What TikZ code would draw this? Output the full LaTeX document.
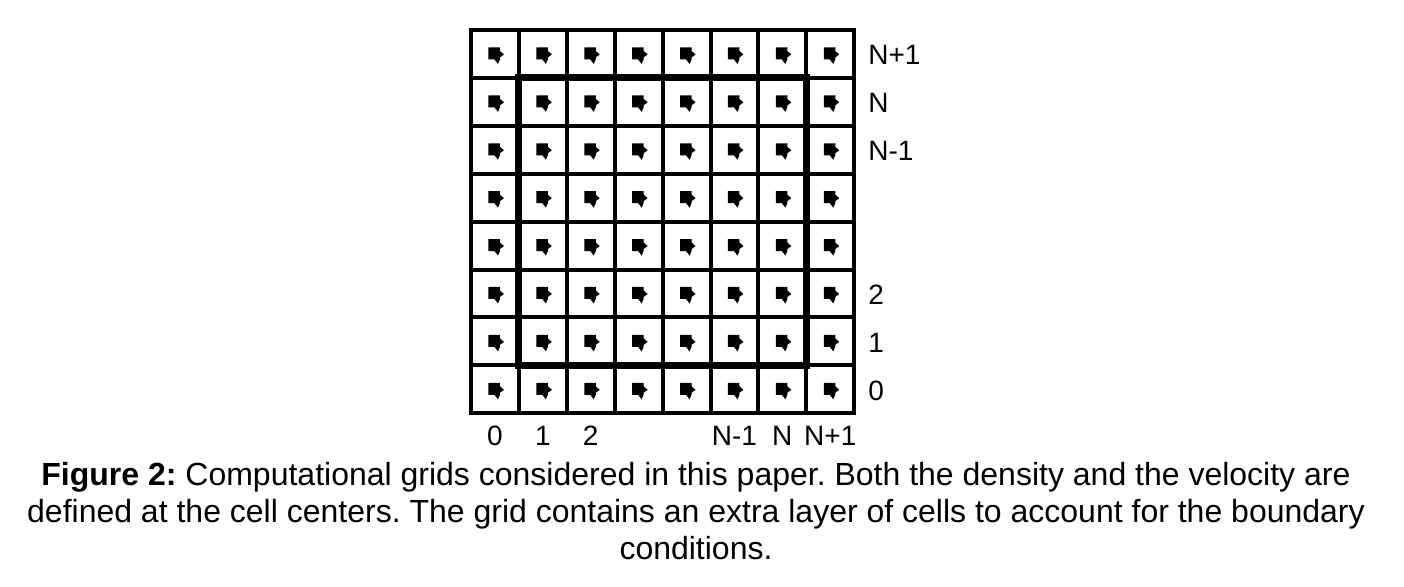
\documentclass[tikz,border=0pt]{standalone}
\usepackage{fontspec}
\setmainfont{Liberation Sans}
\newcommand{\cellmark}[2]{%
  \fill [shift={(#1,#2)}] (-6.5,-6.5) -- (5,-6.5) -- (5,-3) -- (9,0.5) -- (5,3.5)
    -- (5,5.5) -- (3,10) -- (-0.5,5.5) -- (-6.5,5.5) -- cycle;}
\begin{document}
\frenchspacing
\begin{tikzpicture}[x=0.5pt, y=-0.5pt, line cap=rect, font=\fontsize{14}{18}\selectfont,
  lab/.style={inner sep=0pt}, caption/.style={inner sep=0pt, anchor=base, font=\fontsize{16}{20}\selectfont}]
  \def\cell{47.9}
  \def\xo{471}
  \def\yo{30}
  \useasboundingbox (0,0) rectangle (1404,586);
  % cell lines
  \foreach \k in {0,...,8} {
    \draw [line width=2pt] (\xo+\k*\cell,\yo) -- (\xo+\k*\cell,\yo+8*\cell);
    \draw [line width=2pt] (\xo,\yo+\k*\cell) -- (\xo+8*\cell,\yo+\k*\cell);
  }
  % boundary of the inner cells
  \draw [line width=3.5pt] (\xo+\cell,\yo+\cell) rectangle (\xo+7*\cell,\yo+7*\cell);
  % cell centers
  \foreach \i in {0,...,7}
    \foreach \j in {0,...,7}
      \cellmark{\xo+\i*\cell+0.5*\cell}{\yo+\j*\cell+0.5*\cell};
  % indices
  \foreach \i/\lab in {0/0,1/1,2/2,5/N-1,6/N,7/N+1} {
    \node (col\i) [lab, anchor=base] at (\xo+\i*\cell+0.5*\cell,445) {\lab};
    \node (row\i) [lab, anchor=base west] at (868,\yo+7.5*\cell-\i*\cell+11) {\lab};
  }
  % caption
  \node (cap1) [caption] at (696,485) {\textbf{Figure 2:} Computational grids considered in this paper. Both the density and the velocity are};
  \node (cap2) [caption] at (696,522) {defined at the cell centers. The grid contains an extra layer of cells to account for the boundary};
  \node (cap3) [caption] at (696,559) {conditions.};
\end{tikzpicture}
\end{document}
